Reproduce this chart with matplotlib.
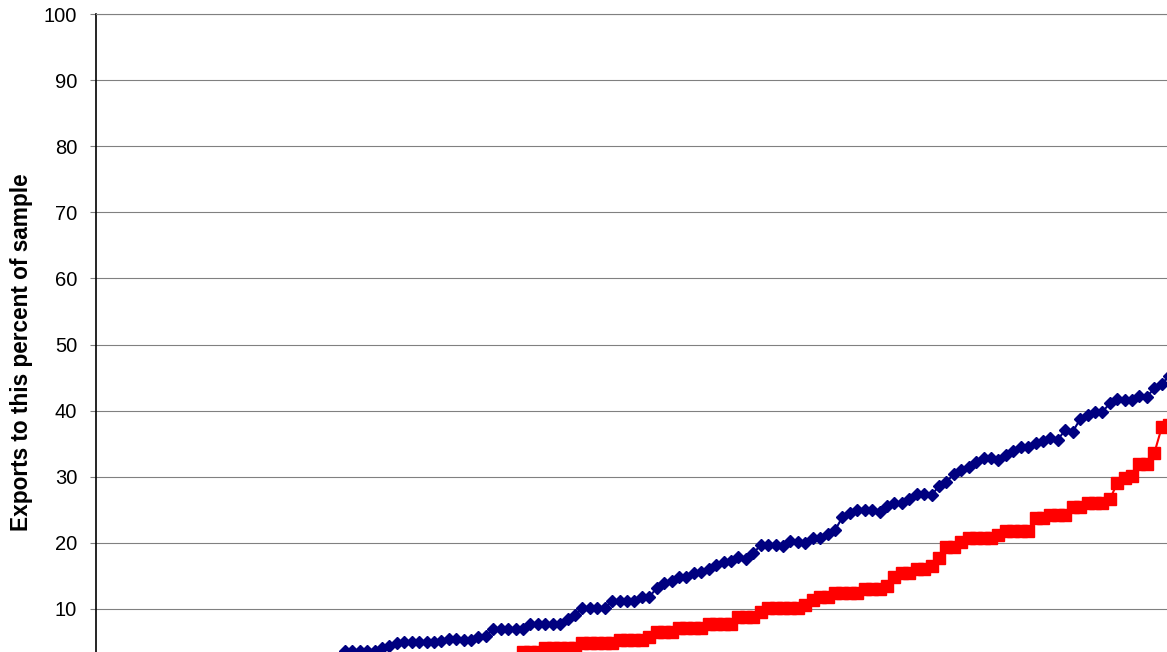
import matplotlib
matplotlib.use("Agg")
import matplotlib.pyplot as plt
import numpy as np

plt.rcParams["font.family"] = ["Liberation Sans", "DejaVu Sans"]

# values, one per sample rank (lowest ranks are below the visible area)
blue_hidden = [0.0, 0.0, 0.0, 0.0, 0.3, 0.3, 0.3, 0.6, 0.6, 0.8, 1.0, 1.0, 1.0,
               1.2, 1.3, 1.3, 1.5, 1.5, 1.6, 1.8, 1.8, 1.8, 2.0, 2.0, 2.1, 2.1,
               2.2, 2.2, 2.2, 2.3, 2.3, 2.3, 2.4]
blue_seen = [3.6, 3.6, 3.6, 3.6, 3.6, 4.1, 4.4, 4.9, 5.0, 5.0, 5.0, 5.0, 5.0,
             5.1, 5.4, 5.4, 5.3, 5.3, 5.8, 5.9, 7.0, 7.0, 7.0, 7.0, 7.0,
             7.8, 7.8, 7.8, 7.8, 7.8, 8.5, 9.1, 10.1, 10.1, 10.1, 10.1,
             11.2, 11.2, 11.2, 11.2, 11.8, 11.8, 13.2, 13.9, 14.3, 14.9, 14.9,
             15.4, 15.6, 16.1, 16.6, 17.1, 17.3, 17.9, 17.6, 18.4,
             19.7, 19.7, 19.7, 19.5, 20.3, 20.1, 20.0, 20.8, 20.7, 21.4, 21.9,
             23.9, 24.5, 25.0, 25.0, 25.0, 24.7, 25.6, 26.1, 26.0, 26.7,
             27.4, 27.4, 27.2, 28.6, 29.2, 30.4, 31.0, 31.5, 32.2, 32.8, 32.8,
             32.5, 33.3, 33.9, 34.5, 34.5, 35.1, 35.4, 35.9, 35.6, 37.1, 36.8,
             38.7, 39.3, 39.8, 39.8, 41.1, 41.7, 41.6, 41.6, 42.2, 42.1,
             43.4, 44.1, 45.2]

red_hidden = [0.0, 0.0, 0.0, 0.0, 0.0, 0.0, 0.0, 0.0, 0.2, 0.2, 0.2, 0.2,
              0.4, 0.4, 0.4, 0.4, 0.6, 0.6, 0.6, 0.6, 0.8, 0.8, 0.8,
              1.0, 1.0, 1.0, 1.0, 1.2, 1.2, 1.2, 1.4, 1.4, 1.4, 1.4,
              1.6, 1.6, 1.6, 1.7, 1.7, 1.7, 1.7, 1.8, 1.8, 1.8, 1.8,
              1.9, 1.9, 1.9, 1.9, 2.0, 2.0, 2.0, 2.0, 2.1, 2.1, 2.1, 2.1]
red_seen = [3.5, 3.5, 3.5, 4.1, 4.1, 4.1, 4.1, 4.1, 4.8, 4.8, 4.8, 4.8, 4.8,
            5.3, 5.3, 5.3, 5.3, 5.8, 6.5, 6.5, 6.5, 7.1, 7.1, 7.1, 7.1,
            7.7, 7.7, 7.7, 7.7, 8.85, 8.85, 8.85, 9.5,
            10.1, 10.1, 10.1, 10.1, 10.1, 10.6, 11.3, 11.8, 11.8,
            12.45, 12.45, 12.45, 12.45, 13.05, 13.05, 13.05, 13.5, 14.8,
            15.4, 15.4, 16.0, 16.0, 16.5, 17.7, 19.4, 19.4, 20.1,
            20.7, 20.7, 20.7, 20.7, 21.2, 21.8, 21.8, 21.8, 21.8,
            23.7, 23.7, 24.2, 24.2, 24.2, 25.4, 25.4, 26.1, 26.1, 26.1,
            26.6, 29.0, 29.8, 30.1, 31.9, 31.9, 33.6, 37.5, 37.8]

blue = blue_hidden + blue_seen
red = red_hidden + red_seen
y_ticks = list(range(10, 101, 10))
y_label = "Exports to this percent of sample"

W, H = 1167, 652
fig = plt.figure(figsize=(W / 100, H / 100), dpi=100)
# plot area runs past the right and bottom edges of the picture (cropped chart)
step = 7.427
ax_right = 1200
ax = fig.add_axes([96 / W, (H - 675.1) / H, (ax_right - 96) / W, 661.1 / H])

x = np.arange(len(blue))
ax.plot(x, blue, color="#000080", lw=1.5, marker="D", ms=6,
        mfc="#000080", mec="#000080", zorder=3)
ax.plot(x, red, color="#FF0000", lw=1.5, marker="s", ms=8,
        mfc="#FF0000", mec="#FF0000", zorder=4)

ax.set_xlim(-0.5, -0.5 + (ax_right - 96) / step)
ax.set_ylim(0, 100)
ax.set_yticks(y_ticks)
ax.set_xticks([])
ax.yaxis.grid(True, color="#808080", lw=0.8)
ax.set_axisbelow(True)

ax.spines["right"].set_visible(False)
ax.spines["bottom"].set_visible(False)
ax.spines["top"].set_color("#808080")
ax.spines["top"].set_linewidth(0.8)
ax.spines["left"].set_color("black")
ax.spines["left"].set_linewidth(1.2)
ax.tick_params(axis="y", length=4.5, width=0.8, color="#808080",
               labelsize=14.5, pad=9)

fig.text(22 / W, 1 - 352 / H, y_label, rotation=90, ha="center", va="center",
         fontsize=16.3, fontweight="bold")

fig.savefig("out.png", dpi=100)
